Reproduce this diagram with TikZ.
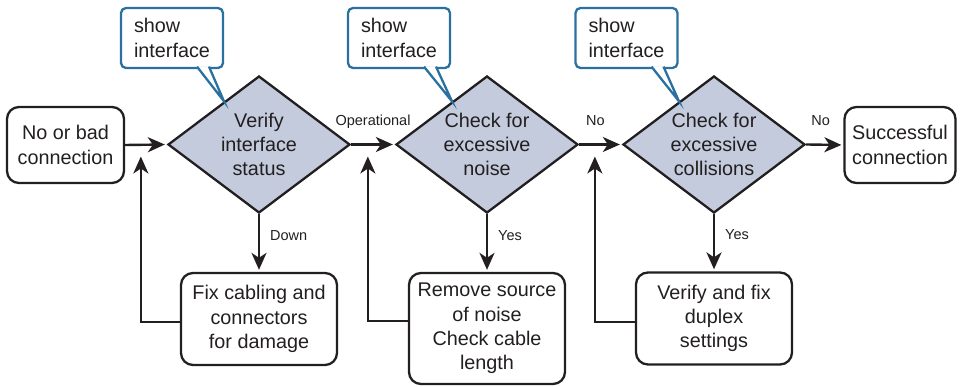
\documentclass[tikz,border=0pt]{standalone}
\usepackage{fontspec}
\setmainfont{Liberation Sans}
\usetikzlibrary{arrows.meta,shapes.geometric,calc}

\definecolor{decfill}{HTML}{C3CBDD}
\definecolor{cmdblue}{HTML}{2A71A0}
\definecolor{ink}{HTML}{231F20}

\tikzset{
  stepbox/.style={draw=ink, line width=2.3pt, rounded corners=12pt, align=center, inner sep=2pt,
    minimum width=156pt, font=\fontsize{19.8}{24.3}\selectfont, text=ink},
  decision/.style={diamond, draw=ink, line width=2.3pt, fill=decfill, aspect=1.33,
    minimum width=182pt, minimum height=137pt, inner sep=0pt, align=center,
    font=\fontsize{19.8}{24.3}\selectfont, text=ink},
  cmdbox/.style={draw=cmdblue, line width=2.3pt, rounded corners=5pt, fill=white, align=left,
    minimum width=102pt, minimum height=60pt, inner sep=2pt,
    font=\fontsize{19.8}{24.3}\selectfont, text=ink},
  pointer/.style={draw=cmdblue, line width=2.3pt, fill=white, line join=miter},
  flow/.style={draw=ink, line width=2.4pt, shorten >=2pt,
    -{Stealth[length=17pt,width=15pt,inset=5pt]}},
  lbl/.style={font=\fontsize{14.5}{16}\selectfont, text=ink, inner sep=0pt},
  lblup/.style={lbl, anchor=base, yshift=19pt},
}

\begin{document}
\begin{tikzpicture}[x=1pt,y=1pt]
  \useasboundingbox (0,0) rectangle (965,387);

  % main row
  \node[stepbox, minimum width=117pt, minimum height=76pt] (start) at (65.5,242) {No or bad\\connection};
  \node[decision] (d1) at (259,242.5) {Verify\\interface\\status};
  \node[decision] (d2) at (487,242.5) {Check for\\excessive\\noise};
  \node[decision] (d3) at (714,242.5) {Check for\\excessive\\collisions};
  \node[stepbox, minimum width=111pt, minimum height=76pt] (done) at (900,242) {Successful\\connection};

  % fixes
  \node[stepbox, minimum height=92pt] (fixA) at (259,68) {Fix cabling and\\connectors\\for damage};
  \node[stepbox, minimum height=111pt] (fixB) at (487,58.5) {Remove source\\of noise\\Check cable\\length};
  \node[stepbox, minimum height=92pt] (fixC) at (714,68.5) {Verify and fix\\duplex\\settings};

  % callouts
  \node[cmdbox] (cmd1) at (172,349) {show\\interface};
  \node[cmdbox] (cmd2) at (399,349) {show\\interface};
  \node[cmdbox] (cmd3) at (626.5,349) {show\\interface};
  \draw[pointer] ([xshift=25pt,yshift=2.5pt]cmd1.south) -- ($(d1.north)!0.38!(d1.west)$) -- ([xshift=37pt,yshift=2.5pt]cmd1.south);
  \draw[pointer] ([xshift=25pt,yshift=2.5pt]cmd2.south) -- ($(d2.north)!0.38!(d2.west)$) -- ([xshift=37pt,yshift=2.5pt]cmd2.south);
  \draw[pointer] ([xshift=25pt,yshift=2.5pt]cmd3.south) -- ($(d3.north)!0.38!(d3.west)$) -- ([xshift=37pt,yshift=2.5pt]cmd3.south);

  % connectors
  \draw[flow] (start.east) -- (d1.west);
  \draw[flow] (d1.east) -- node[lblup] {Operational} (d2.west);
  \draw[flow] (d2.east) -- node[lblup, xshift=-5pt] {No} (d3.west);
  \draw[flow] (d3.east) -- node[lblup, xshift=-4pt] {No} (done.west);

  \draw[flow] (d1.south) -- node[lbl, anchor=base west, xshift=10pt, pos=0.45] {Down} (fixA.north);
  \draw[flow] (d2.south) -- node[lbl, anchor=base west, xshift=10pt, pos=0.45] {Yes} (fixB.north);
  \draw[flow] (d3.south) -- node[lbl, anchor=base west, xshift=10pt, pos=0.45] {Yes} (fixC.north);

  \draw[flow] ([yshift=-3pt]fixA.west) -| ([xshift=-26pt,yshift=-10pt]d1.west);
  \draw[flow] ([yshift=7.5pt]fixB.west) -| ([xshift=-27pt,yshift=-10pt]d2.west);
  \draw[flow] ([yshift=-3.5pt]fixC.west) -| ([xshift=-27pt,yshift=-10pt]d3.west);
\end{tikzpicture}
\end{document}
